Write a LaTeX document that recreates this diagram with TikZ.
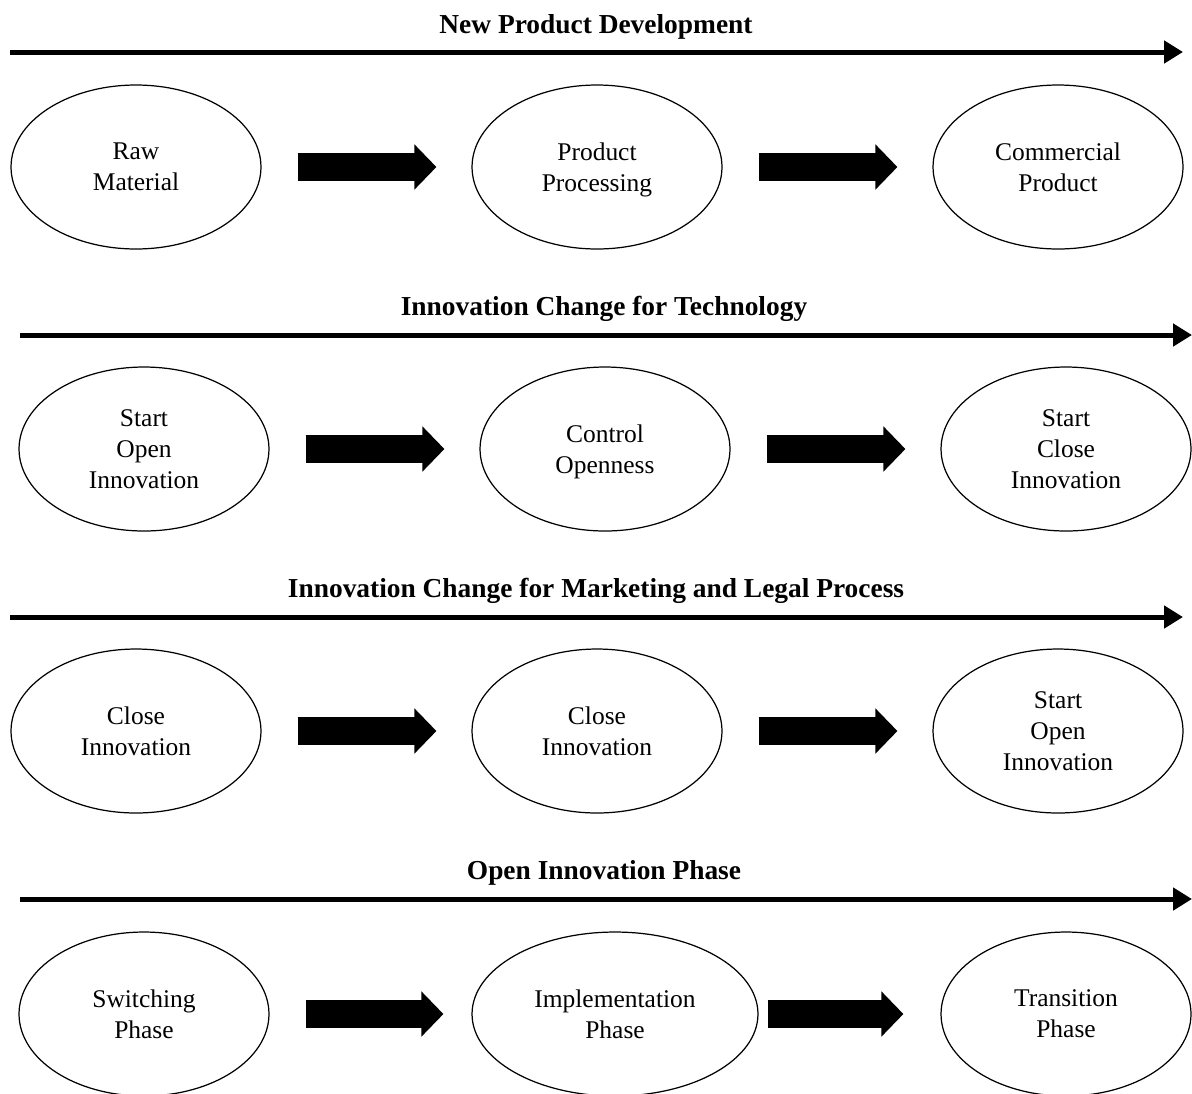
\documentclass[tikz,border=0pt]{standalone}
\usepackage{fontspec}
\setmainfont{Liberation Serif}
\usetikzlibrary{shapes.geometric,arrows.meta}

\tikzset{
  phase/.style={draw, ellipse, line width=0.7pt, minimum width=5cm, minimum height=3.28cm,
    inner sep=0pt, align=center, font=\fontsize{14.5}{17.6}\selectfont, text depth=0pt},
  stage/.style={font=\bfseries\fontsize{15.6}{18}\selectfont},
  timeline/.style={line width=0.1cm, -{Triangle[length=0.38cm,width=0.44cm]}},
  bigarrow/.style={line width=0.56cm, -{Triangle[length=0.44cm,width=0.88cm]},
    shorten <=0.72cm, shorten >=0.7cm}
}

\begin{document}
\begin{tikzpicture}[x=0.02cm,y=-0.02cm]
  \useasboundingbox (0,0) rectangle (1192,1093);

  % first row
  \node[stage] (t1) at (596,27) {New Product Development};
  \coordinate (s1) at (10,52);
  \coordinate (e1) at (1183,52);
  \draw[timeline] (s1) -- (e1);
  \node[phase] (a1) at (136,167) {Raw\\Material};
  \node[phase] (a2) at (597,167) {Product\\Processing};
  \node[phase] (a3) at (1058,167) {Commercial\\Product};
  \draw[bigarrow] (a1) -- (a2);
  \draw[bigarrow] (a2) -- (a3);

  % second row
  \node[stage] (t2) at (604,309) {Innovation Change for Technology};
  \coordinate (s2) at (20,335);
  \coordinate (e2) at (1192,335);
  \draw[timeline] (s2) -- (e2);
  \node[phase] (b1) at (144,449) {Start\\Open\\Innovation};
  \node[phase] (b2) at (605,449) {Control\\Openness};
  \node[phase] (b3) at (1066,449) {Start\\Close\\Innovation};
  \draw[bigarrow] (b1) -- (b2);
  \draw[bigarrow] (b2) -- (b3);

  % third row
  \node[stage] (t3) at (596,591) {Innovation Change for Marketing and Legal Process};
  \coordinate (s3) at (10,617);
  \coordinate (e3) at (1183,617);
  \draw[timeline] (s3) -- (e3);
  \node[phase] (c1) at (136,731) {Close\\Innovation};
  \node[phase] (c2) at (597,731) {Close\\Innovation};
  \node[phase] (c3) at (1058,731) {Start\\Open\\Innovation};
  \draw[bigarrow] (c1) -- (c2);
  \draw[bigarrow] (c2) -- (c3);

  % fourth row
  \node[stage] (t4) at (604,873) {Open Innovation Phase};
  \coordinate (s4) at (20,899);
  \coordinate (e4) at (1192,899);
  \draw[timeline] (s4) -- (e4);
  \node[phase] (d1) at (144,1014) {Switching\\Phase};
  \node[phase, minimum width=5.72cm] (d2) at (615,1014) {Implementation\\Phase};
  \node[phase] (d3) at (1066,1014) {Transition\\Phase};
  \draw[bigarrow, shorten >=0.56cm] (d1) -- (d2);
  \draw[bigarrow, shorten <=0.18cm, shorten >=0.74cm] (d2) -- (d3);

\end{tikzpicture}
\end{document}
